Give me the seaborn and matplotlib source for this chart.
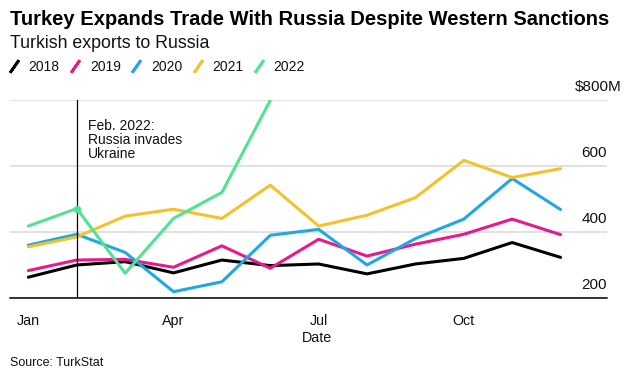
import pandas as pd
import matplotlib.pyplot as plt
import matplotlib.transforms as mtransforms
from matplotlib.lines import Line2D
import seaborn as sns

# Turkish exports to Russia, $M per month
months = list(range(12))
exports_2018 = [264, 301, 311, 277, 316, 299, 304, 274, 304, 321, 369, 324]
exports_2019 = [284, 316, 318, 294, 359, 291, 379, 328, 364, 394, 440, 393]
exports_2020 = [361, 394, 339, 220, 250, 391, 409, 301, 381, 440, 563, 469]
exports_2021 = [356, 386, 449, 470, 442, 543, 419, 452, 505, 618, 566, 593]
exports_2022 = [419, 472, 276, 442, 521, 800]

years = ["2018", "2019", "2020", "2021", "2022"]
colors = ["#000000", "#e8198b", "#1fa8e2", "#f3c22b", "#52e291"]

x_ticks = [0, 3, 6, 9]
x_tick_labels = ["Jan", "Apr", "Jul", "Oct"]
y_ticks = [200, 400, 600, 800]
y_tick_labels = ["200", "400", "600", "$800M"]

event_month = 1
event_text = "Feb. 2022:\nRussia invades\nUkraine"

# long-form table for seaborn
rows = []
for year, values in zip(years, [exports_2018, exports_2019, exports_2020,
                                exports_2021, exports_2022]):
    for m, v in zip(months, values):
        rows.append({"Month": m, "Year": year, "Exports": v})
df = pd.DataFrame(rows)

sns.set_style("white")
plt.rcParams["font.family"] = ["Liberation Sans", "DejaVu Sans"]
plt.rcParams["text.color"] = "#111111"

fig = plt.figure(figsize=(6.32, 3.74), dpi=100)
ax = fig.add_axes([10 / 632, 1 - 298.3 / 374, 597 / 632, 198.3 / 374])

sns.lineplot(data=df, x="Month", y="Exports", hue="Year",
             palette=dict(zip(years, colors)), linewidth=2.2,
             legend=False, ax=ax)
sns.scatterplot(x=[months[event_month]], y=[exports_2022[event_month]],
                color=colors[4], s=30, linewidth=0, ax=ax, zorder=5)

ax.axvline(event_month, color="black", lw=0.9, zorder=4)
ax.text(1.24, 742, event_text, fontsize=10, va="top", ha="left",
        linespacing=1.0)

ax.set_xlim(-0.38, 11.96)
ax.set_ylim(200, 801)

# axes styling
sns.despine(ax=ax, left=True)
ax.spines["bottom"].set_color("black")
ax.spines["bottom"].set_linewidth(1.1)
ax.set_yticks(y_ticks)
ax.tick_params(axis="y", length=0, labelleft=False)
ax.yaxis.grid(True, color="#dedede", lw=1.3)
ax.xaxis.grid(False)
ax.set_xticks(x_ticks, x_tick_labels)
ax.tick_params(axis="x", length=4, width=0.8, color="black",
               labelsize=10.3, pad=7, labelcolor="#111111")
ax.set_ylabel("")
ax.set_xlabel("Date", fontsize=10.3, color="#111111")
ax.xaxis.set_label_coords(0.514, -0.165)

# y labels sit above the gridlines, right aligned
for val, lab in zip(y_ticks, y_tick_labels):
    dx = 15 / 100 if lab.endswith("M") else 0
    off = mtransforms.ScaledTranslation(dx, 9 / 100, fig.dpi_scale_trans)
    ax.text(1.0, val, lab, transform=ax.get_yaxis_transform() + off,
            ha="right", va="baseline", fontsize=11, clip_on=False)

# legend with slash markers
handles = [Line2D([], [], color=c, marker=(2, 2, -35), linestyle="None",
                  markersize=11, markeredgewidth=2.0) for c in colors]
fig.legend(handles, years, loc="center left",
           bbox_to_anchor=(8.5 / 632, 1 - 66.7 / 374), ncol=5,
           frameon=False, fontsize=10, handlelength=0.8,
           handletextpad=0.65, columnspacing=0.72,
           borderpad=0, borderaxespad=0)

fig.text(10 / 632, 1 - 25 / 374,
         "Turkey Expands Trade With Russia Despite Western Sanctions",
         fontsize=14.5, fontweight="bold", va="baseline", color="black")
fig.text(10 / 632, 1 - 47.7 / 374, "Turkish exports to Russia",
         fontsize=12.8, va="baseline")
fig.text(10 / 632, 1 - 366.5 / 374, "Source: TurkStat",
         fontsize=9, va="baseline")

fig.savefig("out.png", dpi=100)
